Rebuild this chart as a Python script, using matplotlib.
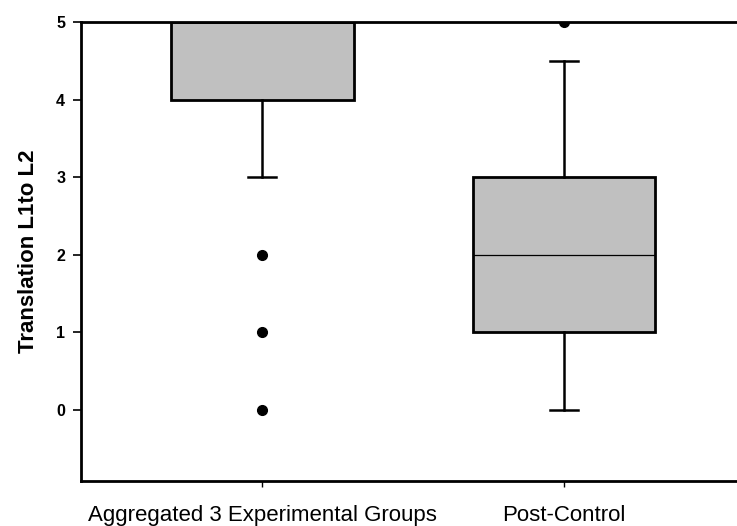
import matplotlib
matplotlib.use("Agg")
from matplotlib import pyplot as plt

# summary statistics for each group
groups = ["Aggregated 3 Experimental Groups", "Post-Control"]
medians = [5, 2]
q1 = [4, 1]
q3 = [5, 3]
whisker_low = [3, 0]
whisker_high = [5, 4.5]
outliers = [[2, 1, 0], [5]]

yticks = [0, 1, 2, 3, 4, 5]


def build_stats():
    stats = []
    for i in range(len(groups)):
        stats.append({
            "label": groups[i],
            "med": medians[i],
            "q1": q1[i],
            "q3": q3[i],
            "whislo": whisker_low[i],
            "whishi": whisker_high[i],
            "fliers": outliers[i],
        })
    return stats


def main():
    plt.rcParams["font.family"] = ["Liberation Sans", "DejaVu Sans"]

    fig = plt.figure(figsize=(7.37, 5.26), dpi=100)
    ax = fig.add_axes([0.110, 0.0856, 0.890, 0.8726])

    ax.bxp(build_stats(), positions=[1, 2], widths=0.606, capwidths=0.092,
           patch_artist=True, showfliers=True,
           boxprops=dict(facecolor="#c0c0c0", edgecolor="black", linewidth=2.0),
           medianprops=dict(color="black", linewidth=0.9),
           whiskerprops=dict(color="black", linewidth=1.8),
           capprops=dict(color="black", linewidth=1.8),
           flierprops=dict(marker="o", markerfacecolor="black", markeredgecolor="black",
                           markersize=7))

    ax.set_xlim(0.4, 2.573)
    ax.set_ylim(-0.92, 5.0)
    ax.set_yticks(yticks)
    ax.set_yticklabels([str(t) for t in yticks], fontsize=11.5, fontweight="bold")
    ax.set_xticks([1, 2])
    ax.set_xticklabels(groups, fontsize=16)

    ax.spines["right"].set_visible(False)
    for side in ["left", "top", "bottom"]:
        ax.spines[side].set_linewidth(2.0)
    ax.tick_params(axis="y", direction="out", length=5.5, width=1.2, pad=6)
    ax.tick_params(axis="x", direction="out", length=4.5, width=1.0, pad=12.5)

    ax.set_ylabel("Translation L1to L2", fontsize=16, fontweight="bold", labelpad=12)

    fig.savefig("out.png", dpi=100)
    plt.close(fig)


if __name__ == '__main__':
    main()
